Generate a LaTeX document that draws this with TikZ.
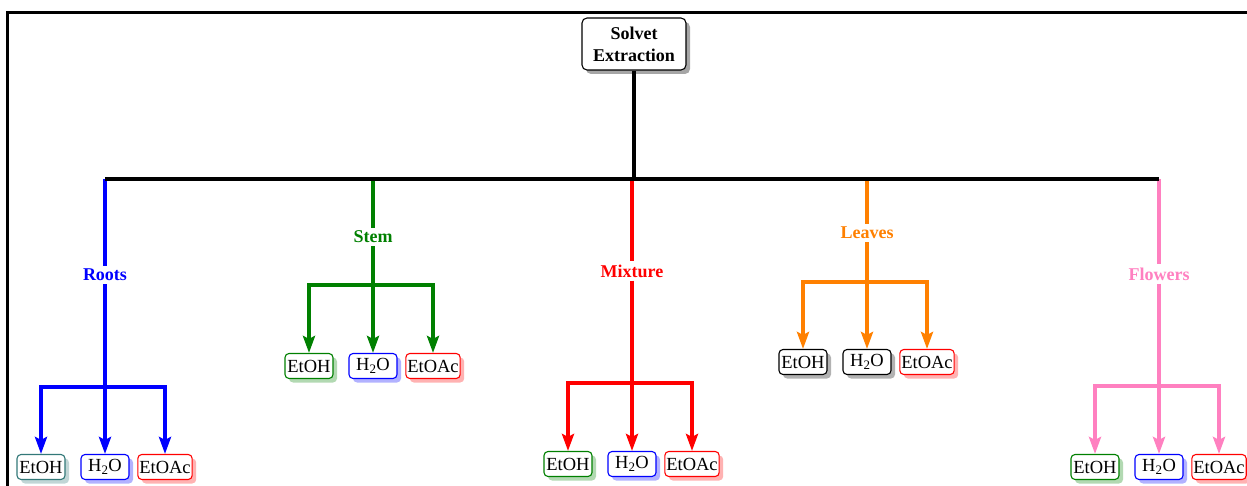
\documentclass[tikz,border=0pt]{standalone}
\usepackage{fontspec}
\setmainfont{Liberation Serif}
\usetikzlibrary{arrows.meta,shadows}
\definecolor{cblue}{RGB}{0,0,255}
\definecolor{cgreen}{RGB}{0,128,0}
\definecolor{cred}{RGB}{255,0,0}
\definecolor{corange}{RGB}{255,128,0}
\definecolor{cpink}{RGB}{255,128,192}
\definecolor{cteal}{RGB}{50,120,120}
\definecolor{cblack}{RGB}{0,0,0}
\tikzset{ctip/.tip={Stealth[length=17pt,width=12pt,inset=3pt]}}
\begin{document}
\begin{tikzpicture}[x=1pt,y=-1pt,
  every node/.style={font=\fontsize{18.5}{22}\selectfont},
  leaf/.style={draw=#1, rounded corners=4pt, line width=1.1pt,
    minimum width=48pt, minimum height=25pt, inner xsep=1.5pt, inner ysep=1pt,
    fill=white, drop shadow={fill=#1, opacity=0.3, shadow xshift=4pt, shadow yshift=-4pt}},
  part/.style={text=#1, font=\fontsize{18}{20}\selectfont\bfseries, inner sep=3pt},
  wire/.style={draw=#1, line width=4pt},
  head/.style={draw, rounded corners=5pt, line width=1.1pt, minimum width=104pt,
    minimum height=52pt, align=center, fill=white,
    font=\fontsize{18}{22}\selectfont\bfseries,
    drop shadow={fill=black, opacity=0.35, shadow xshift=4pt, shadow yshift=-4pt}},
]
\useasboundingbox (0,0) rectangle (1247,486);
% outer frame
\draw[line width=3pt] (7.5,500) -- (7.5,12.5) -- (1260,12.5);

% root
\node[head] (root) at (634,44) {Solvet\\Extraction};
\coordinate (bar) at (634,179);
\coordinate (barL) at (105,179);
\coordinate (barR) at (1159,179);

% branches: name / x / label y / sub-bar y / box y / colour / box colours / label
\foreach \n/\x/\ly/\sy/\by/\c/\ca/\cb/\cc/\t in {%
    r/105/275/387/467/cblue/cteal/cblue/cred/Roots,%
    s/373/237/285/366/cgreen/cgreen/cblue/cred/Stem,%
    m/632/271/383/464/cred/cgreen/cblue/cred/Mixture,%
    l/867/233/282/362/corange/cblack/cblack/cred/Leaves,%
    f/1159/274/386/467/cpink/cgreen/cblue/cred/Flowers}{%
  \coordinate (\n top) at (\x,179);
  \node[part=\c] (\n lbl) at (\x,\ly) {\t};
  \coordinate (\n sub) at (\x,\sy);
  \node[leaf=\ca] (\n e1) at (\x-64,\by) {EtOH};
  \node[leaf=\cb] (\n e2) at (\x,\by) {H\textsubscript{2}O};
  \node[leaf=\cc] (\n e3) at (\x+60,\by) {EtOAc};
  \draw[wire=\c] (\n top) -- (\n lbl);
  \draw[wire=\c, -ctip] (\n lbl) -- (\n e2);
  \draw[wire=\c, ctip-ctip] (\n e1) |- (\n sub) -| (\n e3);
}

% main bar
\draw[wire=black] (barL) -- (barR);
\draw[wire=black] (root) -- (root |- bar);
\end{tikzpicture}
\end{document}
